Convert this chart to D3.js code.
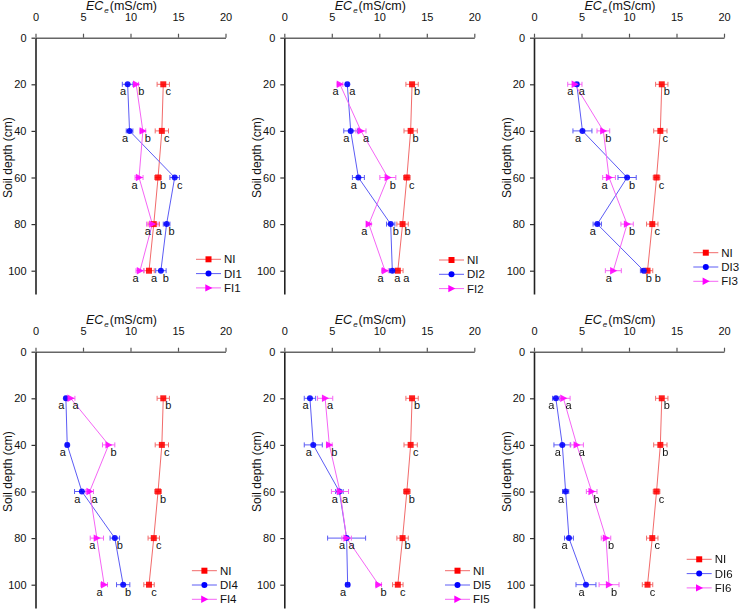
<!DOCTYPE html>
<html><head><meta charset="utf-8">
<script src="https://cdn.jsdelivr.net/npm/d3@7/dist/d3.min.js"></script>
<style>body{margin:0;background:#fff}svg{display:block;font-family:"Liberation Sans",Arial,sans-serif}</style>
</head><body>
<svg id="c" width="740" height="609"></svg>
<script>
// ---------- data ----------
const depths = [20, 40, 60, 80, 100];
const xTicks = [0, 5, 10, 15, 20];
const yTicks = [0, 20, 40, 60, 80, 100];
const seriesNames = ["NI", "DI", "FI"];

const NI    = [13.45, 13.3, 12.9, 12.45, 11.95];
const NIerr = [0.65, 0.7, 0.35, 0.6, 0.55];

const DI1 = [9.7, 9.9, 14.65, 13.8, 13.2];     const DI1err = [0.56, 0.35, 0.5, 0.35, 0.55];
const FI1 = [10.6, 11.3, 10.9, 12.3, 11.0];    const FI1err = [0.25, 0.3, 0.42, 0.6, 0.42];
const DI2 = [6.63, 6.99, 7.8, 11.2, 11.37];    const DI2err = [0.15, 0.73, 0.63, 0.44, 0.3];
const FI2 = [5.86, 8.07, 10.9, 8.9, 10.6];     const FI2err = [0.3, 0.53, 0.84, 0.25, 0.35];
const DI3 = [4.5, 5.1, 9.8, 6.66, 11.55];      const DI3err = [0.2, 1.0, 0.96, 0.44, 0.35];
const FI3 = [4.3, 7.3, 7.9, 9.8, 8.35];        const FI3err = [0.75, 0.67, 0.67, 0.65, 0.84];
const DI4 = [3.2, 3.34, 4.88, 8.35, 9.23];     const DI4err = [0.1, 0.15, 0.77, 0.5, 0.7];
const FI4 = [3.7, 7.7, 5.7, 6.46, 7.23];       const FI4err = [0.45, 0.65, 0.4, 0.7, 0.35];
const DI5 = [2.7, 3.05, 5.8, 6.56, 6.67];      const DI5err = [0.6, 0.95, 0.4, 2.0, 0.2];
const FI5 = [4.3, 4.74, 5.86, 6.56, 9.93];     const FI5err = [0.8, 0.3, 0.9, 0.5, 0.3];
const DI6 = [2.3, 2.98, 3.33, 3.68, 5.47];     const DI6err = [0.35, 0.88, 0.33, 0.47, 1.05];
const FI6 = [3.1, 4.5, 6.07, 7.58, 7.9];       const FI6err = [0.7, 0.7, 0.56, 0.5, 1.05];

const NIlet1 = ["c","c","b","a","a"]; const DIlet1 = ["a","a","c","b","b"]; const FIlet1 = ["b","b","a","a","a"];
const NIlet2 = ["b","b","c","b","a"]; const DIlet2 = ["a","a","a","b","a"]; const FIlet2 = ["a","a","b","a","a"];
const NIlet3 = ["b","c","c","c","b"]; const DIlet3 = ["a","a","b","a","b"]; const FIlet3 = ["a","b","a","b","a"];
const NIlet4 = ["b","c","b","c","c"]; const DIlet4 = ["a","a","a","b","b"]; const FIlet4 = ["a","b","a","a","a"];
const NIlet5 = ["b","c","b","b","c"]; const DIlet5 = ["a","a","a","a","a"]; const FIlet5 = ["a","b","a","a","b"];
const NIlet6 = ["b","b","c","c","c"]; const DIlet6 = ["a","a","a","a","a"]; const FIlet6 = ["a","a","b","b","b"];

const panelData = [
  {n:1, DI:DI1, DIe:DI1err, FI:FI1, FIe:FI1err, L:[NIlet1, DIlet1, FIlet1]},
  {n:2, DI:DI2, DIe:DI2err, FI:FI2, FIe:FI2err, L:[NIlet2, DIlet2, FIlet2]},
  {n:3, DI:DI3, DIe:DI3err, FI:FI3, FIe:FI3err, L:[NIlet3, DIlet3, FIlet3]},
  {n:4, DI:DI4, DIe:DI4err, FI:FI4, FIe:FI4err, L:[NIlet4, DIlet4, FIlet4]},
  {n:5, DI:DI5, DIe:DI5err, FI:FI5, FIe:FI5err, L:[NIlet5, DIlet5, FIlet5]},
  {n:6, DI:DI6, DIe:DI6err, FI:FI6, FIe:FI6err, L:[NIlet6, DIlet6, FIlet6]}
];

// ---------- layout / style ----------
const colX = [35.5, 284.3, 534];
const rowY = [37.7, 351.7];
const W = 190, H = 256.3;
const legendPos = [[160.5, 221.6], [154.7, 222.3], [159.3, 215], [156.4, 219], [160.7, 219], [152.7, 207.6]];
const mark = {NI:"#ff0000", DI:"#0000ff", FI:"#ff00ff"};
const lineC = {NI:"#f26b6b", DI:"#5c5cf5", FI:"#f565f5"};

const svg = d3.select("#c");
const symSquare = "M-3,-3H3V3H-3Z";
const symTri = "M-3.2,-3.7L3.9,0L-3.2,3.7Z";

function drawMarker(g, s, x, y) {
  if (s === "NI") g.append("path").attr("d", symSquare).attr("transform", `translate(${x},${y})`).attr("fill", mark.NI);
  else if (s === "DI") g.append("circle").attr("cx", x).attr("cy", y).attr("r", 3).attr("fill", mark.DI);
  else g.append("path").attr("d", symTri).attr("transform", `translate(${x},${y})`).attr("fill", mark.FI);
}

panelData.forEach((p, i) => {
  const x0 = colX[i % 3], y0 = rowY[Math.floor(i / 3)];
  const x = d3.scaleLinear().domain([0, 20]).range([x0, x0 + W]);
  const y = d3.scaleLinear().domain([0, 110]).range([y0, y0 + H]);
  const g = svg.append("g");

  // axes
  const ax = g.append("g").attr("transform", `translate(0,${y0})`)
    .call(d3.axisTop(x).tickValues(xTicks).tickSize(4).tickSizeOuter(0).tickPadding(13));
  ax.select(".domain").attr("stroke", "#666").attr("stroke-width", 1.6);
  ax.selectAll(".tick line").attr("stroke", "#555").attr("stroke-width", 1.2);
  ax.selectAll("text").attr("font-size", 11).attr("fill", "#111");

  const ay = g.append("g").attr("transform", `translate(${x0},0)`)
    .call(d3.axisLeft(y).tickValues(yTicks).tickSize(4).tickSizeOuter(0).tickPadding(5));
  ay.select(".domain").attr("stroke", "#222").attr("stroke-width", 1.6);
  ay.selectAll(".tick line").attr("stroke", "#333").attr("stroke-width", 1.2);
  ay.selectAll("text").attr("font-size", 11).attr("fill", "#111");

  // titles
  const t = g.append("text").attr("x", x0 + 86).attr("y", y0 - 28).attr("text-anchor", "middle")
    .attr("font-size", 12.5).attr("fill", "#111");
  t.append("tspan").attr("font-style", "italic").text("EC");
  t.append("tspan").attr("font-style", "italic").attr("font-size", 8).attr("dx", 1).attr("dy", 3).text("e");
  t.append("tspan").attr("dx", 1).attr("dy", -3).text("(mS/cm)");
  g.append("text").attr("transform", `translate(${x0 - 27.5},${y0 + 120}) rotate(-90)`)
    .attr("text-anchor", "middle").attr("dominant-baseline", "central")
    .attr("font-size", 12).attr("fill", "#111").text("Soil depth (cm)");

  const S = {NI:{v:NI, e:NIerr}, DI:{v:p.DI, e:p.DIe}, FI:{v:p.FI, e:p.FIe}};
  const line = d3.line().x(d => x(d[0])).y(d => y(d[1]));

  // lines
  seriesNames.forEach(s => {
    g.append("path").datum(S[s].v.map((v, k) => [v, depths[k]]))
      .attr("d", line).attr("fill", "none").attr("stroke", lineC[s]).attr("stroke-width", 1);
  });
  // error bars
  seriesNames.forEach(s => {
    S[s].v.forEach((v, k) => {
      const e = S[s].e[k], yy = y(depths[k]);
      const eg = g.append("g").attr("stroke", lineC[s]).attr("stroke-width", 1);
      eg.append("line").attr("x1", x(v - e)).attr("x2", x(v + e)).attr("y1", yy).attr("y2", yy);
      eg.append("line").attr("x1", x(v - e)).attr("x2", x(v - e)).attr("y1", yy - 2.5).attr("y2", yy + 2.5);
      eg.append("line").attr("x1", x(v + e)).attr("x2", x(v + e)).attr("y1", yy - 2.5).attr("y2", yy + 2.5);
    });
  });
  // markers
  const mg = g.append("g").attr("opacity", 0.88);
  seriesNames.forEach(s => S[s].v.forEach((v, k) => drawMarker(mg, s, x(v), y(depths[k]))));

  // significance letters
  depths.forEach((d, k) => {
    const items = seriesNames.map((s, j) => ({px: x(S[s].v[k]), t: p.L[j][k]}))
      .sort((a, b) => a.px - b.px);
    let prev = -1e9;
    items.forEach((it, r) => {
      let lx = it.px + (r === 0 ? -4.5 : 5);
      if (lx < prev + 9) lx = prev + 9;
      prev = lx;
      g.append("text").attr("x", lx).attr("y", y(d) + 11).attr("text-anchor", "middle")
        .attr("font-size", 11).attr("fill", "#111").text(it.t);
    });
  });

  // legend
  const [lx, ly] = legendPos[i];
  seriesNames.forEach((s, j) => {
    const yy = y0 + ly + j * 14.3, xx = x0 + lx;
    g.append("line").attr("x1", xx).attr("x2", xx + 25).attr("y1", yy).attr("y2", yy)
      .attr("stroke", lineC[s]).attr("stroke-width", 1);
    drawMarker(g, s, xx + 12.5, yy);
    g.append("text").attr("x", xx + 28).attr("y", yy).attr("dominant-baseline", "central")
      .attr("font-size", 11.5).attr("fill", "#111").text(s === "NI" ? "NI" : s + p.n);
  });
});
</script>
</body></html>
